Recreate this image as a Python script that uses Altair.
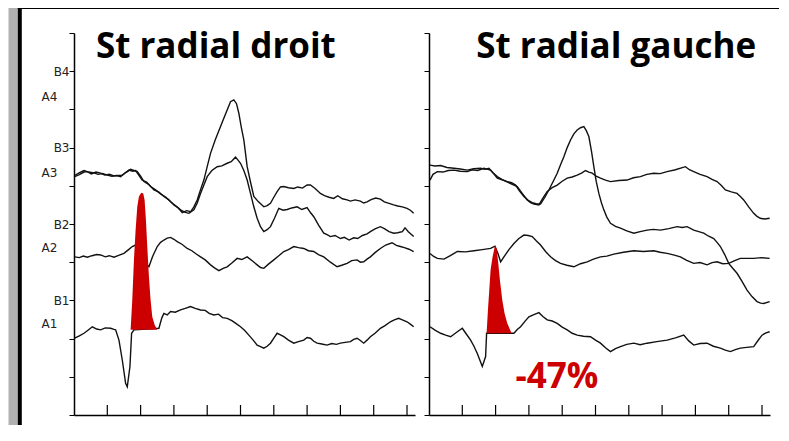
import altair as alt
import pandas as pd

# ---------------- data (x in ms, y in axis units) ----------------
X_MAX = 51.2
Y_TICKS = [0, 1, 2, 3, 4, 5, 6, 7, 8, 9, 10]
X_TICKS = [5, 10, 15, 20, 25, 30, 35, 40, 45, 50]
B_LABEL_VALUES = [9, 7, 5, 3]
B_LABEL_TEXT = ["B4", "B3", "B2", "B1"]
A_LABEL_TEXT = ["A4", "A3", "A2", "A1"]
A_LABEL_Y = [8.32, 6.34, 4.37, 2.38]
A_LABEL_X = -2.5

TITLES = ["St radial droit", "St radial gauche"]
TITLE_X = [21.3, 28.1]
TITLE_Y = [9.35, 9.35]
PCT_TEXT = ["-47%"]
PCT_X = [19.2]
PCT_Y = [0.71]

# left panel (droit): (x, y) samples
L1 = [(0.1,6.24),(0.8,6.29),(1.5,6.36),(2.0,6.37),(2.6,6.31),(3.3,6.36),(4.0,6.33),(4.6,6.28),(5.3,6.30),(6.0,6.26),(6.6,6.27),(7.25,6.28),(7.9,6.36),(8.5,6.43),(9.0,6.40),(9.5,6.37),(10.0,6.25),(10.5,6.11),(11.2,6.04),(12.0,5.89),(12.7,5.84),(13.5,5.72),(14.2,5.64),(15.0,5.50),(15.6,5.43),(16.25,5.30),(16.9,5.35),(17.5,5.32),(18.0,5.45),(18.5,5.63),(19.0,5.90),(19.5,6.15),(20.0,6.50),(20.5,6.85),(21.2,7.20),(22.0,7.55),(22.8,7.90),(23.5,8.20),(24.0,8.25),(24.4,8.15),(24.75,7.90),(25.1,7.55),(25.5,7.20),(26.0,6.50),(26.5,6.10),(27.0,5.72),(27.7,5.58),(28.5,5.45),(29.0,5.48),(29.5,5.54),(30.0,5.70),(30.5,5.85),(31.0,5.97),(31.5,5.98),(32.2,5.95),(33.0,5.93),(33.6,5.97),(34.3,5.94),(35.0,6.02),(35.5,6.02),(36.2,5.93),(37.0,5.80),(37.6,5.74),(38.3,5.70),(39.0,5.67),(39.6,5.74),(40.3,5.66),(41.0,5.63),(41.5,5.60),(42.2,5.63),(43.0,5.60),(43.5,5.55),(44.0,5.58),(44.6,5.64),(45.3,5.68),(46.0,5.65),(46.6,5.58),(47.3,5.54),(48.0,5.50),(48.6,5.47),(49.3,5.45),(50.0,5.41),(50.5,5.36),(51.0,5.28)]
L2 = [(0.1,6.27),(0.7,6.33),(1.5,6.40),(2.2,6.36),(3.0,6.34),(3.6,6.30),(4.3,6.32),(5.0,6.28),(5.7,6.25),(6.4,6.27),(7.0,6.24),(7.6,6.33),(8.25,6.41),(8.8,6.38),(9.25,6.40),(9.8,6.26),(10.25,6.15),(10.9,6.10),(11.5,5.98),(12.2,5.90),(13.0,5.79),(13.8,5.70),(14.5,5.58),(15.3,5.47),(16.0,5.37),(16.6,5.31),(17.25,5.28),(18.0,5.37),(18.5,5.55),(19.0,5.80),(19.5,6.02),(20.0,6.24),(20.7,6.40),(21.5,6.50),(22.2,6.52),(23.0,6.59),(23.6,6.63),(24.25,6.75),(24.6,6.68),(25.0,6.59),(25.5,6.40),(26.0,6.15),(26.5,5.80),(27.0,5.45),(27.5,5.15),(28.0,4.93),(28.5,4.80),(29.0,4.85),(29.5,4.93),(30.1,5.15),(30.75,5.41),(31.4,5.36),(32.0,5.38),(32.7,5.42),(33.5,5.45),(34.2,5.38),(35.0,5.43),(35.5,5.30),(36.0,5.19),(36.7,4.98),(37.5,4.76),(38.0,4.72),(38.5,4.67),(39.2,4.70),(40.0,4.62),(40.6,4.65),(41.3,4.58),(42.0,4.64),(42.6,4.62),(43.3,4.70),(44.0,4.74),(44.5,4.80),(45.2,4.87),(46.0,4.93),(46.6,4.88),(47.3,4.80),(48.0,4.76),(48.6,4.77),(49.3,4.80),(49.7,4.90),(50.2,4.80),(51.0,4.67)]
L3 = [(0.1,4.14),(0.8,4.12),(1.4,4.16),(2.0,4.13),(2.7,4.17),(3.4,4.20),(4.0,4.19),(4.7,4.14),(5.3,4.17),(6.0,4.13),(6.7,4.18),(7.5,4.23),(8.2,4.33),(8.75,4.41),(9.25,4.45),(10.0,4.23),(10.75,3.97),(11.25,3.88),(11.8,4.15),(12.5,4.41),(13.0,4.52),(13.5,4.58),(14.0,4.63),(14.5,4.65),(15.0,4.60),(15.5,4.54),(16.2,4.47),(17.0,4.36),(17.7,4.30),(18.3,4.22),(19.0,4.14),(19.7,4.06),(20.5,3.93),(21.1,3.85),(21.75,3.78),(22.4,3.84),(23.0,3.88),(23.7,3.98),(24.5,4.10),(25.2,4.07),(26.0,4.14),(26.8,4.03),(27.5,3.93),(28.0,3.86),(28.5,3.84),(29.2,3.95),(30.0,4.06),(30.7,4.16),(31.5,4.28),(32.2,4.33),(33.0,4.41),(33.7,4.38),(34.5,4.36),(35.2,4.30),(36.0,4.28),(36.7,4.20),(37.5,4.14),(38.5,4.00),(39.5,3.88),(40.2,3.92),(41.0,3.97),(41.7,4.04),(42.5,4.06),(43.0,4.00),(43.5,4.01),(44.0,4.08),(44.5,4.14),(45.2,4.25),(46.0,4.36),(46.8,4.45),(47.75,4.51),(48.4,4.44),(49.0,4.41),(49.6,4.38),(50.3,4.34),(51.0,4.28)]
L4 = [(0.1,2.01),(0.8,2.07),(1.5,2.14),(2.1,2.22),(2.75,2.31),(3.4,2.25),(4.0,2.23),(4.7,2.28),(5.5,2.27),(6.0,2.24),(6.25,2.23),(6.75,1.96),(7.25,1.44),(7.75,0.83),(8.0,0.74),(8.4,1.27),(8.65,2.14),(9.0,2.23),(12.75,2.27),(13.2,2.55),(13.5,2.66),(14.0,2.62),(14.5,2.71),(15.2,2.69),(16.0,2.75),(16.7,2.79),(17.5,2.84),(18.2,2.79),(19.0,2.75),(19.7,2.74),(20.3,2.66),(21.0,2.62),(21.7,2.64),(22.3,2.55),(23.0,2.53),(23.7,2.47),(24.3,2.40),(25.0,2.31),(25.6,2.22),(26.25,2.09),(26.9,1.96),(27.5,1.83),(28.0,1.79),(28.5,1.75),(29.0,1.80),(29.5,1.88),(30.0,2.01),(30.5,2.14),(31.0,2.10),(31.5,2.05),(32.2,1.96),(33.0,1.88),(33.7,1.92),(34.5,1.96),(35.0,2.03),(35.5,2.01),(36.0,1.93),(36.5,1.88),(37.2,1.86),(38.0,1.83),(38.7,1.87),(39.4,1.85),(40.0,1.88),(40.7,1.90),(41.5,1.92),(42.0,1.98),(42.5,2.01),(43.0,1.95),(43.5,1.88),(44.0,1.96),(44.5,2.05),(45.2,2.14),(46.0,2.27),(46.7,2.34),(47.5,2.44),(48.1,2.49),(48.75,2.53),(49.3,2.49),(50.0,2.44),(50.5,2.38),(51.0,2.31)]
LRED = [(8.5,2.23),(8.75,3.01),(9.0,4.06),(9.25,4.84),(9.5,5.45),(9.75,5.72),(10.1,5.82),(10.4,5.80),(10.6,5.63),(10.8,5.10),(11.0,4.41),(11.25,3.62),(11.5,3.01),(11.75,2.57),(12.1,2.36),(12.5,2.23)]
LRED_BASE = 2.23

# right panel (gauche)
R1 = [(0.15,6.54),(0.9,6.52),(1.75,6.53),(2.7,6.48),(3.75,6.46),(4.7,6.44),(5.75,6.41),(6.7,6.45),(7.75,6.46),(8.4,6.43),(9.0,6.46),(9.6,6.34),(10.25,6.24),(11.0,6.16),(11.75,6.11),(12.4,6.08),(13.0,6.02),(13.6,5.86),(14.25,5.72),(14.9,5.62),(15.5,5.56),(16.1,5.53),(16.75,5.52),(17.4,5.70),(18.0,5.89),(18.6,6.10),(19.25,6.33),(19.75,6.55),(20.25,6.76),(20.75,7.00),(21.25,7.20),(21.75,7.36),(22.25,7.46),(22.75,7.52),(23.25,7.55),(23.6,7.45),(24.0,7.29),(24.4,6.90),(24.75,6.50),(25.1,6.12),(25.5,5.80),(25.9,5.55),(26.25,5.37),(26.7,5.18),(27.25,5.02),(28.0,4.94),(28.75,4.89),(29.7,4.82),(30.75,4.76),(31.7,4.80),(32.75,4.84),(33.7,4.86),(34.75,4.84),(36.0,4.88),(37.25,4.93),(38.0,4.91),(38.75,4.93),(39.75,4.84),(40.5,4.80),(41.25,4.76),(42.0,4.68),(42.75,4.62),(43.25,4.52),(43.75,4.41),(44.4,4.20),(45.0,3.97),(45.6,3.84),(46.25,3.71),(47.0,3.50),(47.75,3.27),(48.5,3.10),(49.25,2.97),(49.8,2.93),(50.25,2.92),(51.15,2.97)]
R2 = [(0.15,6.15),(0.6,6.30),(1.25,6.37),(2.1,6.36),(2.9,6.40),(3.75,6.41),(4.7,6.38),(5.75,6.37),(6.5,6.42),(7.3,6.40),(8.25,6.46),(9.25,6.41),(9.8,6.30),(10.25,6.20),(11.2,6.14),(12.25,6.06),(13.25,5.98),(14.0,5.80),(14.75,5.63),(15.25,5.56),(15.75,5.52),(16.5,5.50),(17.1,5.68),(17.75,5.85),(18.5,5.95),(19.25,6.02),(20.0,6.12),(20.75,6.20),(21.5,6.23),(22.25,6.28),(22.9,6.33),(23.5,6.40),(24.0,6.36),(24.5,6.33),(25.1,6.25),(25.75,6.20),(26.5,6.15),(27.25,6.11),(28.5,6.14),(29.75,6.15),(30.7,6.21),(31.75,6.24),(32.7,6.30),(33.75,6.33),(34.7,6.32),(35.75,6.37),(37.0,6.42),(38.5,6.50),(39.1,6.42),(39.75,6.37),(40.7,6.30),(41.75,6.24),(42.5,6.17),(43.25,6.11),(43.9,6.01),(44.5,5.89),(45.4,5.84),(46.25,5.80),(46.75,5.72),(47.25,5.63),(48.0,5.45),(48.75,5.28),(49.25,5.20),(49.75,5.15),(50.4,5.13),(51.15,5.15)]
R3 = [(0.15,4.23),(0.7,4.15),(1.25,4.10),(2.25,4.08),(3.2,4.17),(4.25,4.28),(5.5,4.27),(6.75,4.30),(8.0,4.33),(9.25,4.36),(9.9,4.42),(10.35,4.23),(10.75,4.01),(11.25,4.14),(12.0,4.33),(12.75,4.49),(13.5,4.62),(14.25,4.71),(14.9,4.70),(15.5,4.67),(16.1,4.56),(16.75,4.45),(17.5,4.28),(18.25,4.14),(19.0,4.04),(19.75,3.97),(20.7,3.92),(21.75,3.88),(22.75,3.96),(23.75,4.01),(24.7,4.08),(25.75,4.14),(26.7,4.16),(27.75,4.21),(29.2,4.26),(30.75,4.30),(32.2,4.28),(33.75,4.30),(34.7,4.26),(35.75,4.23),(36.7,4.19),(37.75,4.14),(38.7,4.05),(39.75,3.97),(40.7,3.99),(41.75,3.93),(42.5,3.99),(43.25,4.01),(44.1,3.96),(45.0,3.97),(45.9,4.04),(46.75,4.10),(47.7,4.10),(48.75,4.10),(49.9,4.12),(51.15,4.10)]
R4 = [(0.15,2.31),(0.9,2.22),(1.75,2.14),(2.5,2.09),(3.25,2.05),(4.1,2.16),(5.0,2.27),(5.6,2.12),(6.25,1.96),(6.75,1.80),(7.25,1.61),(7.6,1.45),(8.0,1.27),(8.5,1.53),(8.65,2.14),(12.75,2.14),(13.25,2.24),(13.75,2.31),(14.4,2.45),(15.0,2.57),(15.75,2.63),(16.5,2.68),(17.1,2.58),(17.75,2.49),(18.5,2.46),(19.25,2.40),(20.0,2.30),(20.75,2.23),(21.5,2.14),(22.25,2.09),(23.2,2.06),(24.25,2.05),(25.0,1.96),(25.75,1.88),(26.5,1.76),(27.25,1.66),(28.0,1.74),(28.75,1.79),(29.7,1.85),(30.75,1.88),(31.7,1.84),(32.75,1.88),(34.2,1.92),(35.75,1.96),(37.0,2.02),(38.25,2.09),(39.0,1.94),(39.75,1.83),(40.7,1.87),(41.75,1.88),(42.7,1.80),(43.75,1.75),(44.5,1.70),(45.25,1.66),(46.0,1.71),(46.75,1.75),(47.7,1.77),(48.75,1.79),(49.4,1.95),(50.0,2.09),(50.6,2.15),(51.15,2.18)]
RRED = [(8.65,2.14),(8.85,2.75),(9.05,3.27),(9.25,3.80),(9.55,4.14),(9.9,4.43),(10.15,4.36),(10.4,3.97),(10.65,3.53),(11.0,3.01),(11.35,2.66),(11.75,2.40),(12.4,2.14)]
RRED_BASE = 2.14

# ---------------- chart ----------------
VW, VH = 341, 382
INK = "#111111"
RED = "#cc0000"
TITLE_FONT = "Open Sans"

xs = alt.Scale(domain=[0, X_MAX], nice=False, zero=False)
ys = alt.Scale(domain=[0, 10], nice=False, zero=False)


def traces_df(traces):
    rows = []
    for name, pts in traces:
        for a, b in pts:
            rows.append({"trace": name, "x": a, "y": b})
    return pd.DataFrame(rows)


def panel(traces, red_pts, red_base, title, tx, ty, left):
    conds = ":".join(f"datum.value=={v}?'{t}'" for v, t in zip(B_LABEL_VALUES, B_LABEL_TEXT))
    label_expr = conds + ":''"
    yaxis = alt.Axis(values=Y_TICKS, tickSize=5, tickColor="black", tickWidth=1,
                     domainColor="black", domainWidth=1.5, grid=False, title=None,
                     labels=left, labelExpr=label_expr, labelFont="DejaVu Sans",
                     labelFontSize=12, labelColor="#222", labelPadding=0)
    xaxis = alt.Axis(ticks=False, labels=False, domainColor="black", domainWidth=1.5,
                     grid=False, title=None)
    X = lambda f: alt.X(f, scale=xs, axis=xaxis)
    Y = lambda f: alt.Y(f, scale=ys, axis=yaxis)

    lines = alt.Chart(traces_df(traces)).mark_line(color=INK, strokeWidth=1.4).encode(
        x=X("x:Q"), y=Y("y:Q"), detail="trace:N",
    )
    red_df = pd.DataFrame({"x": [p[0] for p in red_pts], "y": [p[1] for p in red_pts],
                           "b": [red_base] * len(red_pts)})
    red = alt.Chart(red_df).mark_area(color=RED, opacity=1).encode(
        x=X("x:Q"), y=Y("y:Q"), y2="b:Q",
    )
    ticks = alt.Chart(pd.DataFrame({"x": X_TICKS})).mark_rule(color="black", strokeWidth=1.2).encode(
        x=X("x:Q"), y=alt.value(VH), y2=alt.value(VH - 10),
    )
    tdf = pd.DataFrame({"t": [title], "x": [tx], "y": [ty]})
    ttl = alt.Chart(tdf).mark_text(font=TITLE_FONT, fontWeight="bold", fontSize=35, color="black",
                                   align="center", baseline="alphabetic").encode(
        x=X("x:Q"), y=Y("y:Q"), text="t:N",
    )
    if left:
        adf = pd.DataFrame({"t": A_LABEL_TEXT, "y": A_LABEL_Y, "x": [A_LABEL_X] * 4})
        alab = alt.Chart(adf).mark_text(font="DejaVu Sans", fontSize=12, color="#222",
                                        align="right", baseline="middle").encode(
            x=X("x:Q"), y=Y("y:Q"), text="t:N",
        )
        one = pd.DataFrame({"k": [0]})
        gray = alt.Chart(one).mark_rect(color="#b0b0b0").encode(
            x=alt.value(-65.5), x2=alt.value(-56.2), y=alt.value(-25), y2=alt.value(392))
        blk = alt.Chart(one).mark_rect(color="black").encode(
            x=alt.value(-56.2), x2=alt.value(-52.2), y=alt.value(-25), y2=alt.value(392))
        top = alt.Chart(one).mark_rect(color="black").encode(
            x=alt.value(-56.2), x2=alt.value(705), y=alt.value(-25), y2=alt.value(-24))
        layers = [lines, gray, blk, top, red, ticks, ttl, alab]
    else:
        pdf = pd.DataFrame({"t": PCT_TEXT, "x": PCT_X, "y": PCT_Y})
        pct = alt.Chart(pdf).mark_text(font=TITLE_FONT, fontWeight="bold", fontSize=35, color=RED,
                                       align="center", baseline="alphabetic").encode(
            x=X("x:Q"), y=Y("y:Q"), text="t:N",
        )
        layers = [lines, red, ticks, ttl, pct]
    return alt.layer(*layers).properties(width=VW, height=VH)


left = panel([("B3", L1), ("A3", L2), ("A2", L3), ("A1", L4)],
             LRED, LRED_BASE, TITLES[0], TITLE_X[0], TITLE_Y[0], True)
right = panel([("B3", R1), ("A3", R2), ("A2", R3), ("A1", R4)],
              RRED, RRED_BASE, TITLES[1], TITLE_X[1], TITLE_Y[1], False)

chart = alt.hconcat(left, right, spacing=14).properties(
    bounds="flush", padding=0, background="white"
).configure_view(stroke=None)

chart.save("out.html", embed_options={"renderer": "svg", "actions": False})
